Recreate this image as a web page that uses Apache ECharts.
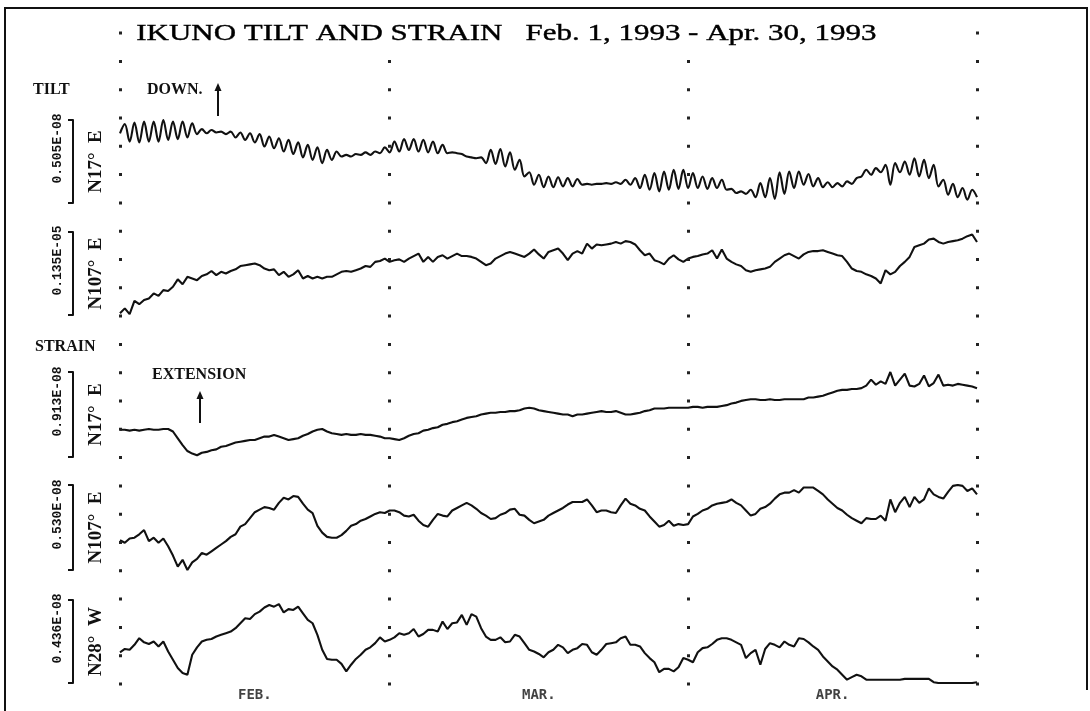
<!DOCTYPE html>
<html><head><meta charset="utf-8">
<script src="https://cdn.jsdelivr.net/npm/echarts@6/dist/echarts.min.js"></script>
<style>html,body{margin:0;padding:0;background:#fff}#c{width:1090px;height:711px}</style>
</head><body><div id="c"></div>
<script>
// ---- data ----
const chartTitle = 'IKUNO TILT AND STRAIN   Feb. 1, 1993 - Apr. 30, 1993';
const startDate = Date.UTC(1993, 1, 1);
const endDate = Date.UTC(1993, 4, 1);
const stepHours = 12; // half-day samples
const monthEdges = [Date.UTC(1993,1,1), Date.UTC(1993,2,1), Date.UTC(1993,3,1), Date.UTC(1993,4,1)];
const monthNames = ['FEB.', 'MAR.', 'APR.'];
const panelNames = ['N17°  E', 'N107°  E', 'N17°  E', 'N107°  E', 'N28°  W'];
const scaleLabels = ['0.505E-08', '0.135E-05', '0.913E-08', '0.530E-08', '0.436E-08'];
// values: percent of each trace's full-scale span (the scale bar)
const tiltN17E = [84,95,74,97,73,98,74,98,74,100,76,98,77,98,79,96,83,89,84,88,85,86,83,86,79,85,76,84,73,83,68,80,66,78,62,76,59,73,55,70,52,67,48,64,52,62,56,58,56,59,58,61,58,62,60,67,61,74,62,77,64,77,62,76,61,74,60,70,60,61,60,59,56,55,54,55,48,64,47,65,44,61,40,52,32,37,22,34,19,32,19,31,20,30,20,29,22,23,22,23,23,24,23,25,23,28,22,30,18,34,16,36,14,38,16,40,17,40,18,36,18,32,17,30,18,28,16,17,12,14,11,16,7,24,7,30,5,37,11,38,18,38,22,35,20,30,19,25,19,24,20,26,23,30,32,40,34,42,37,46,22,48,37,50,34,54,32,52,30,46,20,28,10,23,7,18,4,16,7];
const tiltN107E = [2,8,1,17,13,18,20,26,23,30,29,34,43,37,46,44,42,47,49,53,48,52,50,53,55,59,60,61,62,60,56,54,55,48,52,46,49,54,44,47,44,46,44,46,46,49,52,53,52,54,56,59,58,64,65,68,64,66,67,64,68,71,74,64,70,64,70,72,68,71,74,71,71,70,68,64,60,62,68,71,74,76,74,72,70,74,79,73,68,76,78,80,74,66,74,77,74,86,80,85,84,85,86,88,86,89,88,85,78,72,74,66,64,61,68,72,67,64,68,70,71,73,74,78,68,79,68,64,61,59,54,52,54,55,56,58,64,68,72,74,71,68,73,76,77,77,78,76,74,72,71,64,56,53,52,49,47,44,38,54,49,52,59,64,70,82,84,86,91,92,88,86,88,89,90,92,95,97,88];
const strainN17E = [32,32,31,32,31,32,33,32,32,33,33,30,22,14,7,4,2,5,6,8,9,12,13,15,17,18,19,20,20,22,24,24,26,24,22,20,21,22,25,27,30,32,33,30,28,27,26,27,26,26,27,26,26,25,24,22,22,21,20,22,25,27,28,31,32,34,35,38,39,41,42,44,46,47,48,50,51,52,52,53,53,54,54,55,57,58,57,55,54,53,52,51,50,50,48,50,50,51,52,53,54,53,53,54,52,50,50,51,52,54,55,57,57,57,58,58,58,58,58,59,59,58,59,59,59,60,61,63,64,66,67,68,68,67,67,68,67,67,68,68,68,68,68,70,70,71,72,74,76,78,79,79,80,80,81,84,91,85,89,86,100,84,91,98,84,83,86,96,83,87,97,84,85,84,86,85,84,83,81];
const strainN107E = [35,32,37,38,42,47,34,38,32,37,28,17,4,12,0,9,13,20,18,22,26,30,34,39,42,51,54,61,68,71,74,73,71,79,85,83,87,86,78,71,67,52,44,39,38,38,41,46,52,54,58,60,63,66,68,67,70,70,68,64,63,65,58,53,51,59,66,64,63,70,73,76,79,76,72,67,64,60,61,65,67,71,72,65,64,59,55,57,59,64,67,70,73,77,80,80,80,83,76,68,70,70,68,67,76,84,78,76,72,70,63,57,51,53,58,52,54,53,54,63,66,70,72,76,78,79,80,83,79,76,70,64,66,72,74,78,84,89,91,91,94,91,97,97,97,93,89,83,78,73,70,65,61,58,55,61,60,60,64,58,83,68,79,86,74,86,79,83,96,89,86,84,92,99,100,99,93,96,89];
const strainN28W = [37,41,40,46,54,49,47,50,44,50,38,28,18,12,10,34,43,50,52,53,56,58,60,62,66,72,78,77,83,86,91,94,92,95,85,89,88,92,84,76,72,58,40,29,28,28,23,14,22,29,34,40,43,48,55,50,52,55,60,58,60,65,56,59,64,64,62,74,65,72,73,82,70,83,80,66,56,52,52,55,49,50,58,56,48,40,38,35,31,37,40,46,43,36,40,42,47,46,37,34,40,47,48,49,54,56,46,46,44,36,30,25,13,17,17,14,19,30,28,25,37,42,43,47,52,54,54,52,49,46,30,36,40,22,41,48,46,43,50,46,44,54,53,49,44,40,32,26,20,16,10,4,7,10,8,4,4,4,4,4,4,4,4,5,5,5,5,5,5,1,0,0,0,0,0,0,0,0,1];

// ---- layout ----
const seriesList = [tiltN17E, tiltN107E, strainN17E, strainN107E, strainN28W];
const smoothing = [0.35, 0, 0, 0, 0];
const panelTop = [120, 232, 372, 485, 600];
const panelHeight = [83, 83, 85, 85, 83];
const plotLeft = 120, plotWidth = 857;
const stepMs = stepHours * 3600 * 1000;
const monthMids = monthNames.map((m, k) => (monthEdges[k] + monthEdges[k + 1]) / 2);
const ink = '#111';

const grids = panelTop.map((t, k) => ({ left: plotLeft, width: plotWidth, top: t, height: panelHeight[k] }));
grids.push({ left: plotLeft, width: plotWidth, top: 31, height: 654.5 });
const bgIndex = grids.length - 1;

const xAxes = grids.map((g, k) => ({
  gridIndex: k, type: 'value', min: startDate, max: endDate, show: k === bgIndex,
  axisLine: { show: false }, axisTick: { show: false }, splitLine: { show: false },
  axisLabel: { show: false }
}));

const yAxes = [];
seriesList.forEach((s, k) => {
  yAxes.push({
    gridIndex: k, type: 'value', min: 0, max: 100, interval: 100, position: 'left', offset: 47,
    axisLine: { show: true, lineStyle: { color: ink, width: 2 } },
    axisTick: { show: true, length: 5, lineStyle: { color: ink, width: 2 } },
    axisLabel: { show: false }, splitLine: { show: false },
    name: scaleLabels[k], nameLocation: 'middle', nameRotate: 90, nameGap: 9,
    nameTextStyle: { fontFamily: 'Liberation Mono', fontWeight: 'bold', fontSize: 13, color: ink, padding: [0, 0, 0, 26] }
  });
  yAxes.push({
    gridIndex: k, type: 'value', min: 0, max: 100, position: 'left', offset: 0,
    axisLine: { show: false }, axisTick: { show: false }, axisLabel: { show: false }, splitLine: { show: false },
    name: panelNames[k], nameLocation: 'middle', nameRotate: 90, nameGap: 14,
    nameTextStyle: { fontFamily: 'Liberation Serif', fontWeight: 'bold', fontSize: 19, color: ink }
  });
});
yAxes.push({ gridIndex: bgIndex, type: 'value', min: 0, max: 1, show: false });

const series = seriesList.map((vals, k) => ({
  type: 'line', xAxisIndex: k, yAxisIndex: 2 * k, silent: true, z: 3,
  showSymbol: false, symbol: 'none', smooth: smoothing[k],
  lineStyle: { color: ink, width: 2.1 },
  data: vals.map((v, i) => [startDate + i * stepMs, v])
}));
// month boundaries (dotted verticals)
series.push({
  type: 'line', xAxisIndex: bgIndex, yAxisIndex: yAxes.length - 1, silent: true, z: 1,
  symbol: 'none', lineStyle: { opacity: 0 }, data: [[startDate, -1]],
  markLine: {
    silent: true, symbol: ['none', 'none'], label: { show: false },
    lineStyle: { type: [3, 25.3], width: 3, color: '#222' },
    data: monthEdges.map(t => ({ xAxis: t }))
  }
});
// month names under the plot
series.push({
  type: 'scatter', xAxisIndex: bgIndex, yAxisIndex: yAxes.length - 1, silent: true,
  symbolSize: 0, data: monthMids.map((t, k) => ({ value: [t, 0], name: monthNames[k] })),
  label: { show: true, position: 'bottom', distance: 3, formatter: p => p.name,
    fontFamily: 'DejaVu Sans Mono', fontWeight: 'bold', fontSize: 14, color: ink }
});

const boldSerif = 'bold 16px "Liberation Serif"';
function arrow(x, yTop, yBottom) {
  return { type: 'group', children: [
    { type: 'line', shape: { x1: x, y1: yBottom, x2: x, y2: yTop + 6 }, style: { stroke: ink, lineWidth: 2 } },
    { type: 'polygon', shape: { points: [[x, yTop], [x - 3.5, yTop + 8], [x + 3.5, yTop + 8]] }, style: { fill: ink } }
  ]};
}

const graphic = [
  { type: 'polyline', shape: { points: [[5, 711], [5, 8], [1087, 8], [1087, 690]] }, style: { stroke: ink, lineWidth: 2, fill: null } },
  { type: 'text', x: 135, y: 34, scaleX: 1.29, z: 100, style: { text: chartTitle, font: '24px "Liberation Serif"', fill: '#000', stroke: '#000', lineWidth: 0.4, align: 'left', verticalAlign: 'middle', backgroundColor: '#fff', padding: [2, 1] } },
  { type: 'text', x: 33, y: 90, style: { text: 'TILT', font: boldSerif, fill: ink, verticalAlign: 'middle' } },
  { type: 'text', x: 147, y: 90, style: { text: 'DOWN.', font: boldSerif, fill: ink, verticalAlign: 'middle' } },
  arrow(218, 83, 116),
  { type: 'text', x: 35, y: 347, style: { text: 'STRAIN', font: boldSerif, fill: ink, verticalAlign: 'middle' } },
  { type: 'text', x: 152, y: 375, style: { text: 'EXTENSION', font: boldSerif, fill: ink, verticalAlign: 'middle' } },
  arrow(200, 391, 423)
];

const chart = echarts.init(document.getElementById('c'), null, { renderer: 'canvas' });
chart.setOption({
  animation: false, backgroundColor: '#fff',
  grid: grids, xAxis: xAxes, yAxis: yAxes, series, graphic
});
</script></body></html>
